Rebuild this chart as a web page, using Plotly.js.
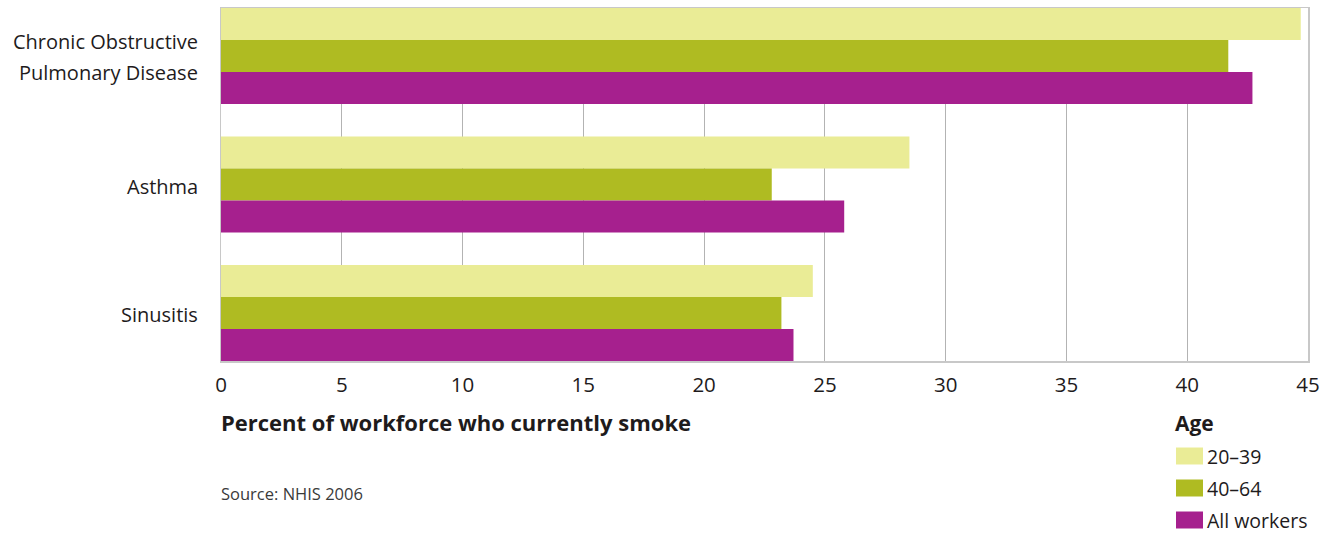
<!DOCTYPE html>
<html>
<head>
<meta charset="utf-8">
<script src="https://cdn.plot.ly/plotly-3.0.1.min.js"></script>
<style>
  html, body { margin: 0; padding: 0; background: #ffffff; }
  #chart { width: 1336px; height: 533px; }
</style>
</head>
<body>
<div id="chart"></div>
<script>
// Respiratory conditions among workers who currently smoke, by age group
const conditions = ["Chronic Obstructive<br>Pulmonary Disease", "Asthma", "Sinusitis"];
const ageGroups = ["20–39", "40–64", "All workers"];
const age20to39 = [44.7, 28.5, 24.5];
const age40to64 = [41.7, 22.8, 23.2];
const allWorkers = [42.7, 25.8, 23.7];
const xTicks = [0, 5, 10, 15, 20, 25, 30, 35, 40, 45];

const colors = ["#eaec96", "#afbb22", "#a6208e"];
const seriesValues = [age20to39, age40to64, allWorkers];
const FONT = "Open Sans, Noto Sans, sans-serif";
const INK = "#1e1b1c";

const traces = seriesValues.map((vals, i) => ({
  type: "bar",
  orientation: "h",
  name: ageGroups[i],
  x: vals,
  y: conditions,
  marker: { color: colors[i], line: { width: 0 } },
  hoverinfo: "x+name",
  showlegend: false
}));

const shapes = [];
const annotations = [
  { xref: "paper", yref: "paper", x: -0.002, y: -0.172, xanchor: "left", yanchor: "middle",
    text: "<b>Percent of workforce who currently smoke</b>", showarrow: false,
    font: { family: FONT, size: 22, color: INK } },
  { xref: "paper", yref: "paper", x: -0.002, y: -0.376, xanchor: "left", yanchor: "middle",
    text: "Source: NHIS 2006", showarrow: false,
    font: { family: FONT, size: 16.5, color: "#3a3a3a" } },
  { xref: "paper", yref: "paper", x: (1173 - 221) / 1087, y: (361 - 423) / 353,
    xanchor: "left", yanchor: "middle", text: "<b>Age</b>", showarrow: false,
    font: { family: FONT, size: 21, color: INK } }
];

// Category labels to the left of the bars, with roomier line spacing
conditions.forEach((c) => {
  const lines = c.split("<br>");
  const step = 31;
  lines.forEach((ln, j) => {
    annotations.push({
      xref: "paper", yref: "y", x: 0, y: c,
      xanchor: "right", yanchor: "middle", xshift: -21,
      yshift: -((j - (lines.length - 1) / 2) * step) - 1.5,
      text: ln, showarrow: false,
      font: { family: FONT, size: 20, color: INK }
    });
  });
});

// Age legend: swatches with labels under the axis
const rowY = [456, 488, 520];
ageGroups.forEach((g, i) => {
  const yc = (361 - rowY[i]) / 353;
  const h = 8.5 / 353;
  shapes.push({
    type: "rect", xref: "paper", yref: "paper",
    x0: (1176 - 221) / 1087, x1: (1203 - 221) / 1087,
    y0: yc - h, y1: yc + h,
    fillcolor: colors[i], line: { width: 0 }
  });
  annotations.push({
    xref: "paper", yref: "paper", x: (1205 - 221) / 1087, y: yc,
    xanchor: "left", yanchor: "middle", text: g, showarrow: false,
    font: { family: FONT, size: 19.5, color: INK }
  });
});

const layout = {
  width: 1336,
  height: 533,
  margin: { l: 221, r: 28, t: 8, b: 172, pad: 0 },
  paper_bgcolor: "#ffffff",
  plot_bgcolor: "#ffffff",
  barmode: "group",
  bargap: 0.253,
  bargroupgap: 0,
  showlegend: false,
  font: { family: FONT, color: INK },
  xaxis: {
    range: [0, 45],
    tickvals: xTicks,
    ticktext: xTicks.map(String),
    showgrid: true,
    gridcolor: "#b3b3b3",
    gridwidth: 1,
    zeroline: false,
    showline: true,
    linecolor: "#c8c8c8",
    linewidth: 1.5,
    mirror: true,
    ticks: "outside",
    ticklen: 5,
    tickcolor: "rgba(0,0,0,0)",
    tickfont: { family: FONT, size: 20.5, color: INK }
  },
  yaxis: {
    type: "category",
    categoryorder: "array",
    categoryarray: conditions,
    autorange: false,
    range: [2.373, -0.373],
    showgrid: false,
    zeroline: false,
    showline: true,
    linecolor: "#c8c8c8",
    linewidth: 1.5,
    mirror: true,
    ticks: "",
    showticklabels: false
  },
  shapes: shapes,
  annotations: annotations
};

Plotly.newPlot("chart", traces, layout, { displayModeBar: false, staticPlot: true });
</script>
</body>
</html>
